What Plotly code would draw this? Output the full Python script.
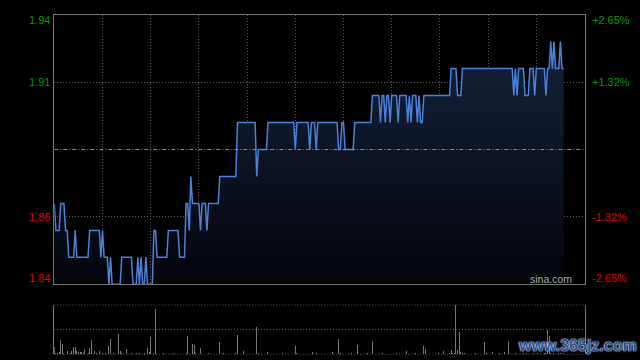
import plotly.graph_objects as go

# ---- data (minute index from 09:30, HK session = 330 minutes) ----
minutes = list(range(318))

price = [
    1.87, 1.86, 1.86, 1.86, 1.87, 1.87, 1.87, 1.86, 1.86, 1.85, 1.85, 1.85, 1.85, 1.86, 1.85, 1.85, 1.85, 1.85, 1.85, 1.85,
    1.85, 1.85, 1.86, 1.86, 1.86, 1.86, 1.86, 1.86, 1.86, 1.85, 1.86, 1.85, 1.85, 1.85, 1.84, 1.85, 1.84, 1.84, 1.84, 1.84,
    1.84, 1.84, 1.85, 1.85, 1.85, 1.85, 1.85, 1.85, 1.85, 1.84, 1.84, 1.84, 1.85, 1.84, 1.85, 1.84, 1.84, 1.85, 1.84, 1.84,
    1.84, 1.84, 1.86, 1.86, 1.85, 1.85, 1.85, 1.85, 1.85, 1.85, 1.85, 1.86, 1.86, 1.86, 1.86, 1.86, 1.86, 1.86, 1.85, 1.85,
    1.85, 1.85, 1.87, 1.87, 1.86, 1.88, 1.87, 1.87, 1.87, 1.87, 1.87, 1.86, 1.87, 1.87, 1.87, 1.86, 1.87, 1.87, 1.87, 1.87,
    1.87, 1.87, 1.87, 1.88, 1.88, 1.88, 1.88, 1.88, 1.88, 1.88, 1.88, 1.88, 1.88, 1.88, 1.90, 1.90, 1.90, 1.90, 1.90, 1.90,
    1.90, 1.90, 1.90, 1.90, 1.90, 1.90, 1.88, 1.89, 1.89, 1.89, 1.89, 1.89, 1.89, 1.90, 1.90, 1.90, 1.90, 1.90, 1.90, 1.90,
    1.90, 1.90, 1.90, 1.90, 1.90, 1.90, 1.90, 1.90, 1.90, 1.90, 1.89, 1.90, 1.90, 1.90, 1.90, 1.90, 1.90, 1.90, 1.90, 1.89,
    1.90, 1.90, 1.90, 1.89, 1.90, 1.90, 1.90, 1.90, 1.90, 1.90, 1.90, 1.90, 1.90, 1.90, 1.90, 1.90, 1.90, 1.89, 1.89, 1.90,
    1.90, 1.89, 1.89, 1.89, 1.89, 1.89, 1.89, 1.90, 1.90, 1.90, 1.90, 1.90, 1.90, 1.90, 1.90, 1.90, 1.90, 1.90, 1.91, 1.91,
    1.91, 1.91, 1.91, 1.90, 1.91, 1.91, 1.90, 1.91, 1.91, 1.90, 1.91, 1.91, 1.91, 1.91, 1.90, 1.91, 1.91, 1.91, 1.91, 1.91,
    1.90, 1.91, 1.90, 1.91, 1.91, 1.91, 1.90, 1.91, 1.90, 1.90, 1.91, 1.91, 1.91, 1.91, 1.91, 1.91, 1.91, 1.91, 1.91, 1.91,
    1.91, 1.91, 1.91, 1.91, 1.91, 1.91, 1.91, 1.92, 1.92, 1.92, 1.92, 1.91, 1.91, 1.91, 1.92, 1.92, 1.92, 1.92, 1.92, 1.92,
    1.92, 1.92, 1.92, 1.92, 1.92, 1.92, 1.92, 1.92, 1.92, 1.92, 1.92, 1.92, 1.92, 1.92, 1.92, 1.92, 1.92, 1.92, 1.92, 1.92,
    1.92, 1.92, 1.92, 1.92, 1.92, 1.92, 1.91, 1.92, 1.91, 1.92, 1.92, 1.92, 1.92, 1.91, 1.91, 1.91, 1.92, 1.92, 1.92, 1.91,
    1.92, 1.92, 1.92, 1.92, 1.92, 1.92, 1.91, 1.92, 1.92, 1.93, 1.92, 1.93, 1.92, 1.92, 1.92, 1.93, 1.92, 1.92,
]

volume = [
    155, 34, 18, 54, 290, 210, 20, 12, 74, 15, 22, 74, 149, 149, 68, 40, 54, 47, 18, 108,
    15, 20, 128, 290, 12, 68, 18, 10, 68, 16, 22, 14, 18, 12, 169, 311, 15, 20, 10, 14,
    412, 68, 18, 12, 16, 108, 14, 10, 18, 12, 15, 20, 10, 34, 14, 12, 18, 10, 128, 54,
    351, 14, 20, 920, 16, 12, 10, 14, 18, 12, 10, 16, 14, 12, 18, 10, 12, 14, 16, 10,
    12, 14, 18, 372, 16, 14, 210, 189, 26, 12, 14, 128, 16, 10, 12, 14, 18, 12, 10, 14,
    12, 16, 14, 250, 12, 34, 16, 10, 12, 14, 10, 12, 16, 18, 392, 14, 12, 10, 68, 14,
    12, 10, 14, 16, 12, 10, 554, 18, 12, 14, 10, 12, 16, 47, 12, 10, 14, 12, 16, 10,
    12, 14, 18, 12, 10, 14, 16, 12, 10, 14, 169, 18, 12, 14, 10, 16, 12, 10, 14, 12,
    16, 47, 12, 18, 10, 14, 12, 16, 10, 12, 14, 10, 16, 40, 12, 14, 10, 311, 18, 12,
    14, 16, 12, 10, 14, 18, 12, 10, 14, 189, 16, 12, 10, 14, 12, 18, 10, 16, 270, 14,
    12, 16, 10, 14, 18, 12, 10, 14, 16, 12, 10, 14, 12, 18, 10, 14, 16, 12, 10, 60,
    12, 14, 10, 16, 12, 18, 10, 14, 12, 16, 169, 115, 14, 10, 12, 16, 14, 10, 12, 18,
    14, 12, 68, 16, 10, 14, 18, 88, 26, 30, 1000, 88, 450, 40, 34, 18, 14, 12, 16, 10,
    14, 12, 18, 10, 16, 14, 12, 10, 250, 18, 14, 12, 16, 40, 10, 14, 12, 18, 16, 12,
    54, 14, 12, 270, 16, 10, 14, 18, 12, 16, 10, 14, 24, 12, 18, 16, 14, 12, 20, 16,
    14, 18, 12, 16, 14, 22, 28, 490, 370, 18, 14, 20, 16, 12, 24, 18, 14, 26,
]

prev_close = 1.89
price_ticks = [1.94, 1.915, 1.865, 1.84]
price_labels = ["1.94", "1.91", "1.86", "1.84"]
pct_labels = ["+2.65%", "+1.32%", "-1.32%", "-2.65%"]
time_grid = [30, 60, 90, 120, 150, 180, 210, 240, 270, 300]

# ---- style ----
W, H = 640, 360
XD = [54.3 / W, 584.5 / W]
YD_MAIN = [1 - 284.3 / H, 1 - 14.7 / H]
YD_VOL = [1 - 354.3 / H, 1 - 305.0 / H]
GRID = "#5c5c5c"
FRAME = "#767676"
DOT = "1px,2px"
GREEN = "#009a00"
RED = "#e00000"

fig = go.Figure()

fig.add_trace(go.Scatter(
    x=minutes, y=price, mode="lines",
    line=dict(color="#4a82da", width=1.5),
    fill="tozeroy",
    fillgradient=dict(type="vertical",
                      colorscale=[[0, "#03050a"], [1, "#15223b"]],
                      start=1.84, stop=1.93),
    hoverinfo="skip", showlegend=False,
))

fig.add_trace(go.Bar(
    x=minutes, y=volume, width=0.62,
    marker=dict(color="#7a7a7a", line=dict(width=0)),
    xaxis="x2", yaxis="y2", hoverinfo="skip", showlegend=False,
))

fig.update_layout(
    width=W, height=H,
    margin=dict(l=0, r=0, t=0, b=0),
    paper_bgcolor="#000000", plot_bgcolor="#000000",
    bargap=0,
    xaxis=dict(domain=XD, range=[0, 330], anchor="y",
               tickvals=time_grid, showticklabels=False, ticks="",
               showgrid=True, gridcolor=GRID, griddash=DOT, gridwidth=1,
               showline=True, mirror=True, linecolor=FRAME, linewidth=1,
               zeroline=False, fixedrange=True),
    yaxis=dict(domain=YD_MAIN, range=[1.84, 1.94], anchor="x",
               tickvals=[1.865, 1.915], showticklabels=False, ticks="",
               showgrid=True, gridcolor=GRID, griddash=DOT, gridwidth=1,
               showline=True, mirror=True, linecolor=FRAME, linewidth=1,
               zeroline=False, fixedrange=True),
    xaxis2=dict(domain=XD, range=[0, 330], anchor="y2",
                showticklabels=False, ticks="", showgrid=False,
                showline=False, zeroline=False, fixedrange=True),
    yaxis2=dict(domain=YD_VOL, range=[0, 1000], anchor="x2",
                tickvals=[500], showticklabels=False, ticks="",
                showgrid=True, gridcolor=GRID, griddash=DOT, gridwidth=1,
                showline=True, mirror=True, linecolor=FRAME, linewidth=1,
                zeroline=False, fixedrange=True),
)

shapes = [
    dict(type="line", xref="x", yref="y", x0=0, x1=330, y0=prev_close, y1=prev_close,
         line=dict(color="#8a8a8a", width=1, dash="4px,2px,1px,2px"), layer="above"),
    dict(type="line", xref="x2 domain", yref="y2 domain", x0=0, x1=1, y0=1, y1=1,
         line=dict(color=GRID, width=1, dash=DOT)),
    dict(type="line", xref="x2 domain", yref="y2 domain", x0=0, x1=1, y0=0, y1=0,
         line=dict(color=GRID, width=1, dash=DOT)),
]
fig.update_layout(shapes=shapes)

shifts = [-5.6, 0, 0, 6]
font_lbl = "Liberation Sans, Arial, sans-serif"
ann = []
for v, lab, pct, s in zip(price_ticks, price_labels, pct_labels, shifts):
    col = GREEN if v > prev_close else RED
    ann.append(dict(xref="paper", yref="y", x=51.5 / W, y=v, yshift=s,
                    text=lab, showarrow=False, xanchor="right", yanchor="middle",
                    font=dict(family=font_lbl, size=11, color=col)))
    ann.append(dict(xref="paper", yref="y", x=590.0 / W, y=v, yshift=s,
                    text=pct, showarrow=False, xanchor="left", yanchor="middle",
                    font=dict(family=font_lbl, size=11, color=col)))

ann.append(dict(xref="paper", yref="paper", x=573.5 / W, y=1 - 279.3 / H,
                text="sina.com", showarrow=False, xanchor="right", yanchor="middle",
                font=dict(family=font_lbl, size=10.5, color="#aaaaaa")))
ann.append(dict(xref="paper", yref="paper", x=516 / W, y=1 - 345.5 / H,
                text="www.365jz.com", showarrow=False, xanchor="left", yanchor="middle",
                font=dict(family="Liberation Sans, Arial, sans-serif", size=16,
                          color="#22519f", weight="bold",
                          shadow="0 0 2px #ffffff, 0 0 1px #ffffff")))
fig.update_layout(annotations=ann)

fig.write_html(
    "out.html",
    config={"displayModeBar": False, "staticPlot": True},
    post_script="document.body.style.margin='0';document.body.style.padding='0';"
                "document.body.style.background='#000';"
                "document.documentElement.style.background='#000';"
                "document.body.style.overflow='hidden';",
)
